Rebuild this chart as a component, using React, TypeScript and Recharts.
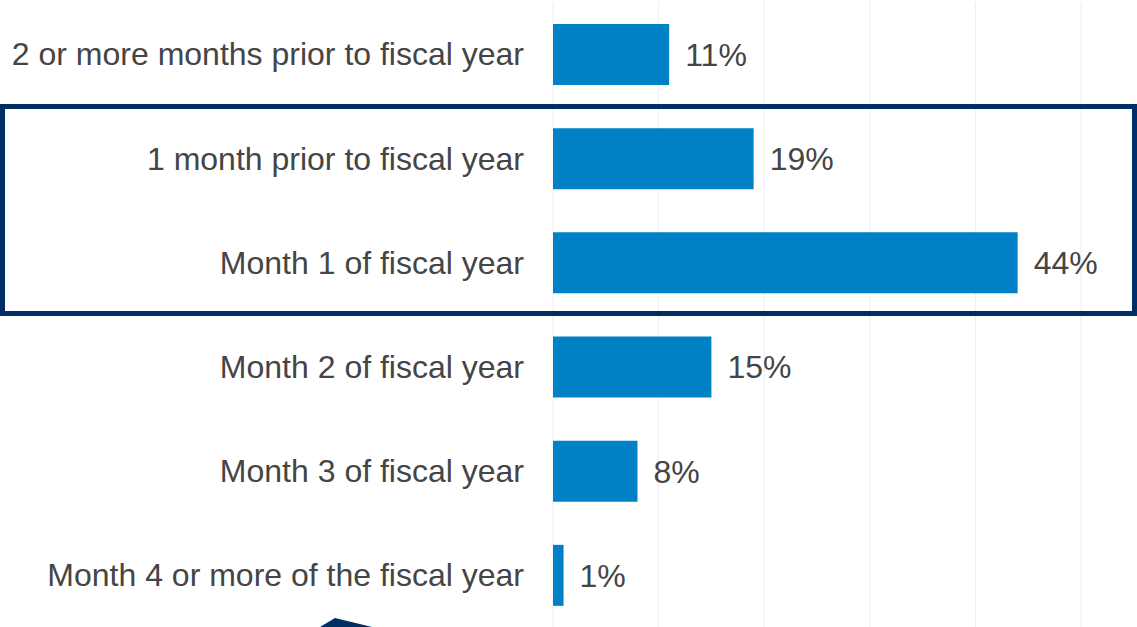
import React from "react";
import { BarChart, Bar, XAxis, YAxis, CartesianGrid, LabelList } from "recharts";

const categories = [
  "2 or more months prior to fiscal year",
  "1 month prior to fiscal year",
  "Month 1 of fiscal year",
  "Month 2 of fiscal year",
  "Month 3 of fiscal year",
  "Month 4 or more of the fiscal year",
];
const shares = [11, 19, 44, 15, 8, 1];
const xTicks = [0, 10, 20, 30, 40, 50];

const data = categories.map((name, i) => ({ name, value: shares[i] }));

const FONT = '"Liberation Sans", Arial, Helvetica, sans-serif';
const TEXT = "#454545";

export default function App() {
  return (
    <div
      style={{
        position: "absolute",
        left: 0,
        top: 0,
        width: 1137,
        height: 627,
        overflow: "hidden",
        background: "#fff",
        fontFamily: FONT,
      }}
    >
      <BarChart
        width={1137}
        height={627}
        data={data}
        layout="vertical"
        margin={{ top: 2, right: 56, bottom: 0, left: 0 }}
      >
        <CartesianGrid horizontal={false} stroke="#ededf4" />
        <XAxis type="number" domain={[0, 50]} ticks={xTicks} hide />
        <YAxis
          type="category"
          dataKey="name"
          width={553}
          axisLine={false}
          tickLine={false}
          tickSize={6}
          tickMargin={23}
          tick={{ fill: TEXT, fontSize: 32, fontFamily: FONT }}
        />
        <Bar dataKey="value" fill="#0081c6" barSize={61} isAnimationActive={false}>
          <LabelList
            dataKey="value"
            position="right"
            offset={16}
            formatter={(v: any) => `${v}%`}
            fill={TEXT}
            fontSize={32}
            fontFamily={FONT}
          />
        </Bar>
      </BarChart>
      {/* highlight box around the two middle categories */}
      <div
        style={{
          position: "absolute",
          left: 0,
          top: 104,
          width: 1137,
          height: 212,
          boxSizing: "border-box",
          border: "5px solid #002d62",
          pointerEvents: "none",
        }}
      />
      {/* tip of a shape cut off at the bottom edge */}
      <svg
        width={1137}
        height={627}
        style={{ position: "absolute", left: 0, top: 0, pointerEvents: "none" }}
      >
        <polygon points="320,627 335,618 372,627" fill="#002d62" />
      </svg>
    </div>
  );
}
